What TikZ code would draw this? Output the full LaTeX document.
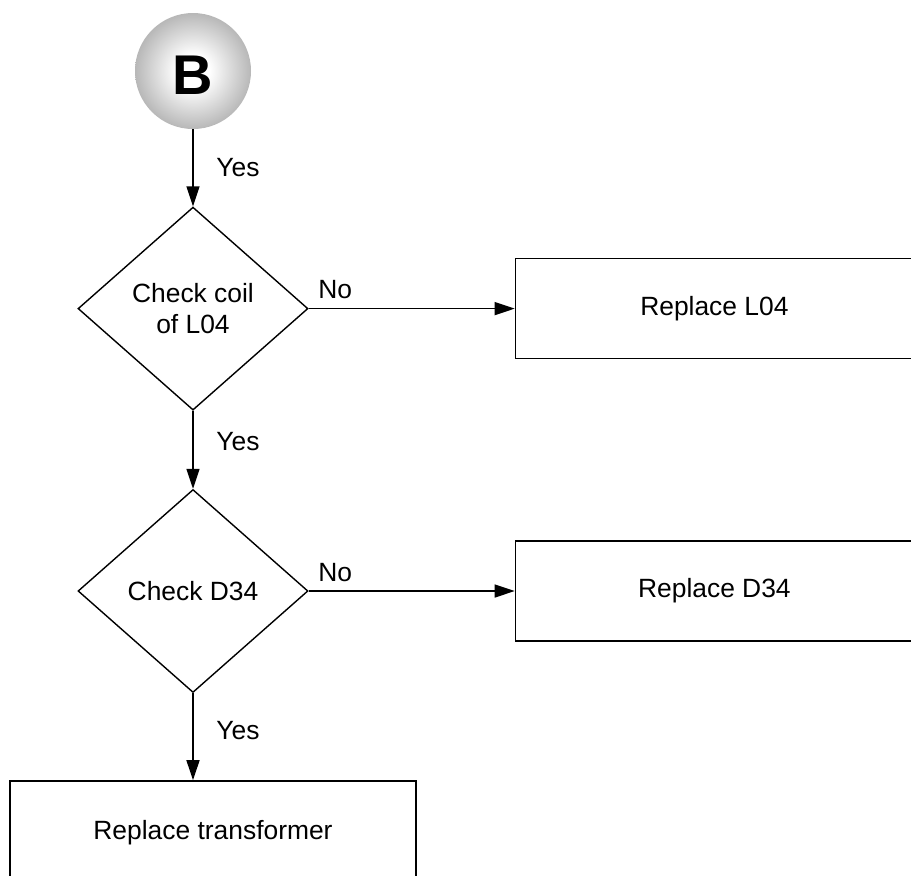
\documentclass[tikz,border=0pt]{standalone}
\usepackage{fontspec}
\setmainfont{Liberation Sans}
\usetikzlibrary{arrows.meta,positioning,shapes.geometric}
\pgfdeclareradialshading{ballshade}{\pgfpoint{0bp}{0bp}}{color(0bp)=(white); color(7bp)=(white); color(25bp)=(black!28); color(50bp)=(black!28)}

\begin{document}
\begin{tikzpicture}[font=\fontsize{13.2}{15.5}\selectfont,
  decision/.style={draw,diamond,minimum width=115pt,minimum height=101.5pt,inner sep=0pt,align=center,line width=0.7pt},
  action/.style={draw,rectangle,minimum width=199pt,minimum height=50pt,line width=0.7pt},
  flow/.style={-{Triangle[length=10pt,width=6.5pt]},line width=0.7pt}]
\useasboundingbox (0,0) rectangle (455.5pt,-437.5pt);
\clip (0,0) rectangle (455.5pt,-437.5pt);

\node[circle,minimum size=58pt,inner sep=0pt,shading=ballshade] (b) at (96.5pt,-35.5pt) {};
\node[font=\fontsize{28}{28}\selectfont\bfseries,yshift=-2pt] (bl) at (b) {B};
\node[decision,below=38.5pt of b] (d1) {Check coil\\of L04};
\node[action,right=103pt of d1] (r1) {Replace L04};
\node[decision,below=39pt of d1] (d2) {Check D34};
\node[action,right=103pt of d2] (r2) {Replace D34};
\node[action,minimum width=203pt,minimum height=52pt,below=43.5pt of d2,xshift=10pt] (r3) {Replace transformer};

\draw[flow] (b) -- node[right,xshift=8pt] (y1) {Yes} (d1);
\draw[flow] (d1) -- node[anchor=south west,pos=0,inner sep=4.5pt] (n1) {No} (r1);
\draw[flow] (d1) -- node[right,xshift=8pt,yshift=4pt] (y2) {Yes} (d2);
\draw[flow] (d2) -- node[anchor=south west,pos=0,inner sep=4.5pt] (n2) {No} (r2);
\draw[flow] (d2.south) -- node[right,xshift=8pt,yshift=3pt] (y3) {Yes} (d2.south |- r3.north);
\end{tikzpicture}
\end{document}
